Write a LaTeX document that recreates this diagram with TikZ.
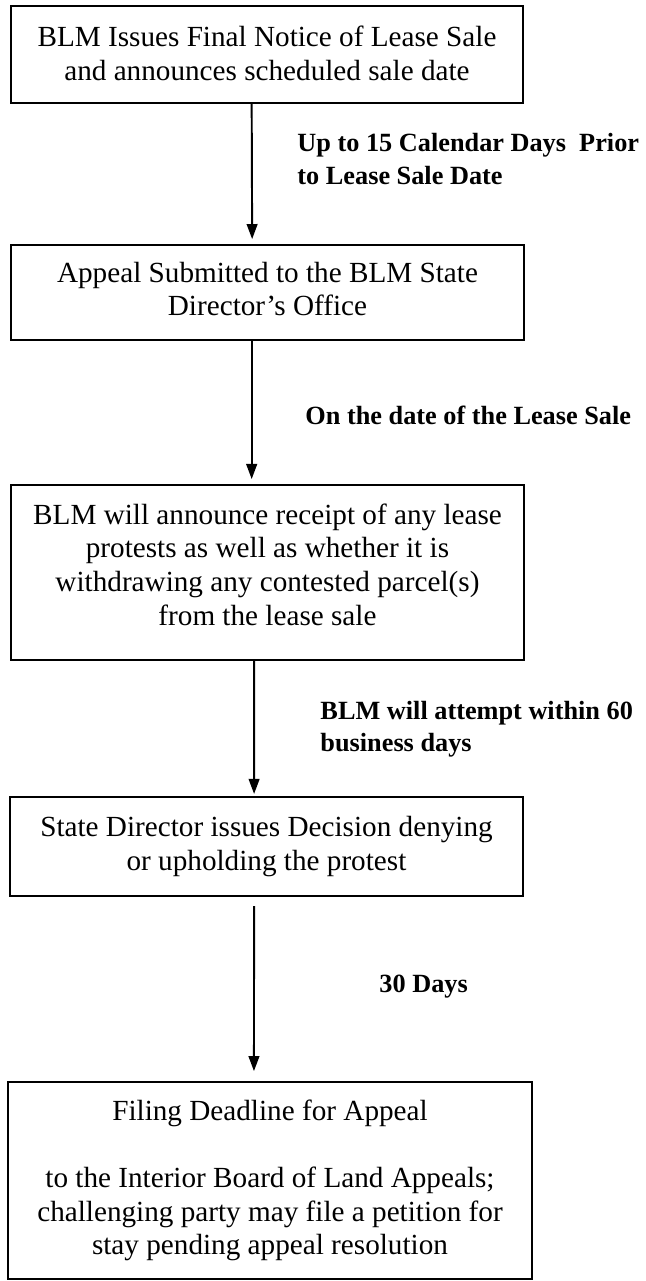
\documentclass[tikz,border=0pt]{standalone}
\usepackage{fontspec}
\setmainfont{Liberation Serif}
\usetikzlibrary{arrows.meta}

\begin{document}
\begin{tikzpicture}[x=0.411pt, y=-0.411pt,
  box/.style={draw, line width=0.9pt, align=center, inner sep=0pt,
    minimum width=210.6pt, font=\fontsize{12}{13.8}\selectfont},
  lbl/.style={anchor=west, align=left, inner sep=0pt,
    font=\bfseries\fontsize{10.8}{13.2}\selectfont},
  arr/.style={line width=0.8pt, -{Triangle[length=6.2pt,width=4.4pt]}}]
\useasboundingbox (0,0) rectangle (646,1281);

\node[box, minimum height=39.9pt, text depth=1pt] (notice) at (267,54.5) {BLM Issues Final Notice of Lease Sale\\and announces scheduled sale date};
\node[box, minimum height=39pt, text depth=2.9pt] (appeal) at (267.5,292.5) {Appeal Submitted to the BLM State\\Director’s Office};
\node[box, minimum height=71.9pt, text depth=6.6pt] (announce) at (267.5,572.5) {BLM will announce receipt of any lease\\protests as well as whether it is\\withdrawing any contested parcel(s)\\from the lease sale};
\node[box, minimum height=40.7pt] (decision) at (266.5,846.5) {State Director issues Decision denying\\or upholding the protest};
\node[box, minimum height=81pt, minimum width=215.4pt] (deadline) at (270,1180.5) {Filing Deadline for Appeal\\[13.8pt]to the Interior Board of Land Appeals;\\challenging party may file a petition for\\stay pending appeal resolution};

\node[lbl] (lbl1) at (297,159) {Up to 15 Calendar Days\ \ Prior\\to Lease Sale Date};
\node[lbl] (lbl2) at (305,415) {On the date of the Lease Sale};
\node[lbl] (lbl3) at (320,729) {BLM will attempt within 60\\business days};
\node[lbl] (lbl4) at (379,987) {30 Days};

\draw[arr, shorten >=2pt] ([xshift=-6.3pt]notice.south) -- ([xshift=-6.3pt]appeal.north);
\draw[arr, shorten >=2pt] ([xshift=-6.5pt]appeal.south) -- ([xshift=-6.5pt]announce.north);
\draw[arr, shorten >=0.8pt] ([xshift=-5.5pt]announce.south) -- ([xshift=-5.1pt]decision.north);
\draw[arr, shorten <=3.7pt, shorten >=4pt] ([xshift=-5.1pt]decision.south) -- ([xshift=-6.6pt]deadline.north);
\end{tikzpicture}
\end{document}
